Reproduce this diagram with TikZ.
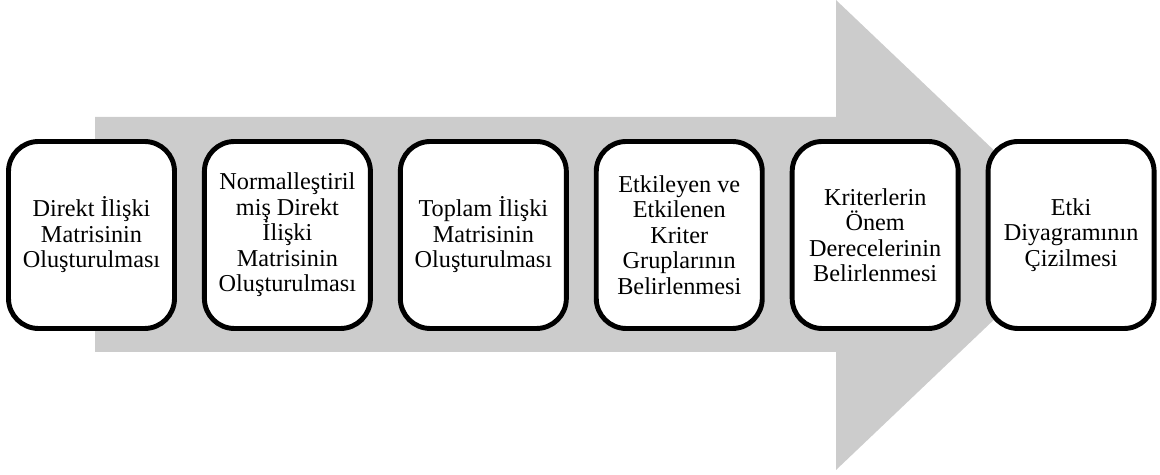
\documentclass[tikz,border=0pt]{standalone}
\usepackage{fontspec}
\setmainfont{Liberation Serif}
\usepackage{tikz}
\usetikzlibrary{positioning}

\tikzset{
	stepbox/.style={draw, line width=2.8pt, fill=white, rounded corners=0.6cm,
		minimum width=3.32cm, minimum height=3.74cm, align=center,
		font=\fontsize{13.8pt}{14.5pt}\selectfont},
}

\begin{document}
\begin{tikzpicture}[node distance=0.5cm]
	
	\useasboundingbox (0,0) rectangle (23.2,9.5);
	
	\def\ym{4.8} % middle of the arrow
	
	\coordinate (A) at (1.9,2.46);
	\coordinate (B) at (16.72,7.16);
	\coordinate (T) at (21.66,\ym);
	
	% big grey arrow
	\fill[black!20] (A) -- (A |- B) -- (B) -- (16.72,9.5) -- (T) -- (16.72,0.1) -- (B |- A) -- cycle;
	
	\node[stepbox] (s1) at (1.83,\ym) {Direkt İlişki\\Matrisinin\\Oluşturulması};
	\node[stepbox, right=of s1] (s2) {Normalleştiril\\miş Direkt\\İlişki\\Matrisinin\\Oluşturulması};
	\node[stepbox, right=of s2] (s3) {Toplam İlişki\\Matrisinin\\Oluşturulması};
	\node[stepbox, right=of s3] (s4) {Etkileyen ve\\Etkilenen\\Kriter\\Gruplarının\\Belirlenmesi};
	\node[stepbox, right=of s4] (s5) {Kriterlerin\\Önem\\Derecelerinin\\Belirlenmesi};
	\node[stepbox, right=of s5] (s6) {Etki\\Diyagramının\\Çizilmesi};
	
\end{tikzpicture}
\end{document}
